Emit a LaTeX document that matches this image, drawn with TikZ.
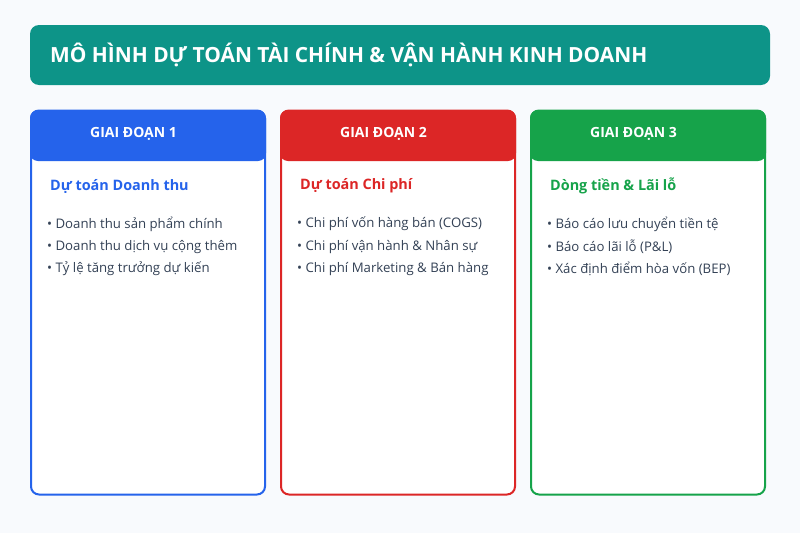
\documentclass[tikz,border=0pt]{standalone}
\usepackage{fontspec}
\setmainfont{Open Sans}
\definecolor{bg}{HTML}{F8FAFD}
\definecolor{teal}{HTML}{0D9488}
\definecolor{cblue}{HTML}{2563EB}
\definecolor{cred}{HTML}{DC2626}
\definecolor{cgreen}{HTML}{16A34A}
\definecolor{txt}{HTML}{334155}
\tikzset{
  card/.style={draw=#1, line width=2pt, fill=white, rounded corners=8pt, minimum width=234pt, minimum height=384pt, inner sep=0pt},
  head/.style={fill=#1, rounded corners=8pt, minimum width=236pt, minimum height=51pt, inner sep=0pt},
  headtxt/.style={text=white, font=\bfseries\fontsize{14}{16}\selectfont, anchor=west, inner sep=0pt},
  subtxt/.style={text=#1, font=\bfseries\fontsize{14.4}{17}\selectfont, anchor=west, inner sep=0pt},
  item/.style={text=txt, font=\fontsize{13.2}{15}\selectfont, anchor=west, inner sep=0pt},
}
\begin{document}
\begin{tikzpicture}[x=1pt,y=-1pt]
\fill[bg] (0,0) rectangle (800,533);
\useasboundingbox (0,0) rectangle (800,533);
\node[fill=teal, rounded corners=9pt, minimum width=740pt, minimum height=60pt, inner sep=0pt] (title) at (400,55) {};
\node[text=white, font=\bfseries\fontsize{20.9}{24}\selectfont, anchor=west, inner sep=0pt] (titletxt) at (50,55) {MÔ HÌNH DỰ TOÁN TÀI CHÍNH \& VẬN HÀNH KINH DOANH};

% card 1
\node[card=cblue] (c1) at (148,302.5) {};
\node[head=cblue] (h1) at (148,135.5) {};
\node[headtxt] (h1t) at (90,134) {GIAI ĐOẠN 1};
\node[subtxt=cblue] (s1) at (50,186) {Dự toán Doanh thu};
\node[item] (i11) at (47,224) {• Doanh thu sản phẩm chính};
\node[item] (i12) at (47,247) {• Doanh thu dịch vụ cộng thêm};
\node[item] (i13) at (47,269) {• Tỷ lệ tăng trưởng dự kiến};

% card 2
\node[card=cred] (c2) at (398,302.5) {};
\node[head=cred] (h2) at (398,135.5) {};
\node[headtxt] (h2t) at (340,134) {GIAI ĐOẠN 2};
\node[subtxt=cred] (s2) at (300,186) {Dự toán Chi phí};
\node[item] (i21) at (297,224) {• Chi phí vốn hàng bán (COGS)};
\node[item] (i22) at (297,247) {• Chi phí vận hành \& Nhân sự};
\node[item] (i23) at (297,269) {• Chi phí Marketing \& Bán hàng};

% card 3
\node[card=cgreen] (c3) at (648,302.5) {};
\node[head=cgreen] (h3) at (648,135.5) {};
\node[headtxt] (h3t) at (590,134) {GIAI ĐOẠN 3};
\node[subtxt=cgreen] (s3) at (550,186) {Dòng tiền \& Lãi lỗ};
\node[item] (i31) at (547,224) {• Báo cáo lưu chuyển tiền tệ};
\node[item] (i32) at (547,247) {• Báo cáo lãi lỗ (P\&L)};
\node[item] (i33) at (547,269) {• Xác định điểm hòa vốn (BEP)};
\end{tikzpicture}
\end{document}
